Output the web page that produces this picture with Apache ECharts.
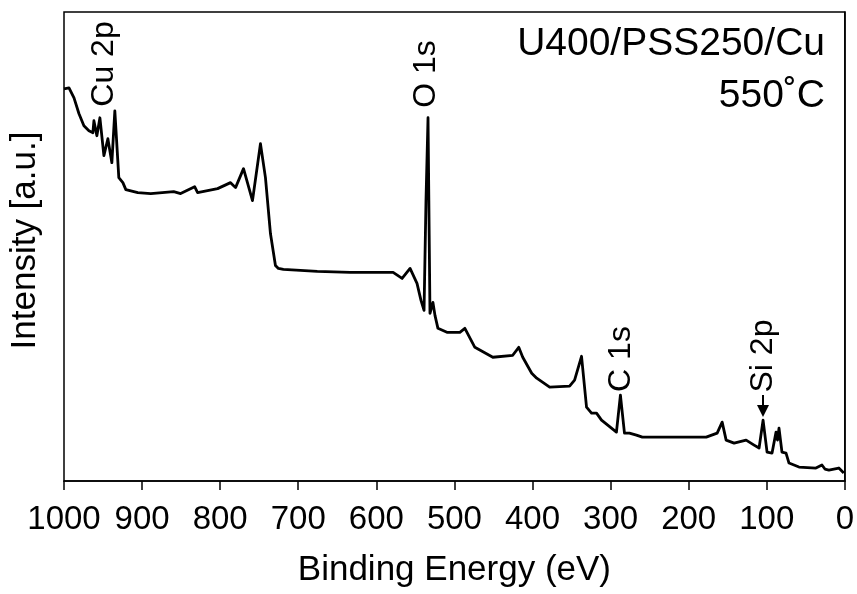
<!DOCTYPE html>
<html>
<head>
<meta charset="utf-8">
<script src="https://cdn.jsdelivr.net/npm/echarts@6/dist/echarts.min.js"></script>
<style>
html,body{margin:0;padding:0;background:#fff;}
#chart{width:857px;height:594px;}
</style>
</head>
<body>
<div id="chart"></div>
<script>
// Binding energy (eV)
var energy = [1000, 993.6, 987.2, 980.8, 974.5, 968.1, 963.0, 961.7, 957.9, 954.0,
  948.9, 943.8, 938.7, 934.9, 929.8, 924.6, 920.8, 905.5, 888.9, 859.5,
  850.6, 832.7, 828.9, 803.3, 786.7, 780.3, 770.1, 758.6, 748.4, 742.0,
  735.6, 729.2, 725.4, 719.0, 675.6, 633.5, 578.5, 567.0, 556.8, 547.9, 542.8,
  538.9, 536.4, 533.8, 531.3, 527.5, 524.9, 521.1, 509.6, 493.0, 486.6,
  473.8, 450.8, 425.3, 417.6, 412.5, 401.0, 394.6, 378.0, 352.5, 346.1,
  337.2, 330.8, 324.4, 318.0, 311.6, 292.5, 287.4, 282.2, 275.9, 266.9,
  259.3, 208.2, 177.5, 163.5, 157.1, 152.0, 141.8, 126.4, 116.2, 109.8,
  104.7, 99.6, 93.2, 88.1, 86.2, 84.3, 80.5, 75.3, 71.5, 58.7,
  37.0, 29.3, 25.5, 20.4, 7.7, 1.3];
// Intensity (a.u.)
var intensity = [393, 394, 384, 368, 356, 351, 349, 361, 346, 364,
  326, 343, 319, 371, 304, 299, 292, 289, 288, 290,
  288, 295, 289, 293, 299, 294, 313, 281, 338, 304,
  248, 216, 213, 212, 210, 209, 209, 203, 213, 198, 181,
  171, 281, 364, 168, 179, 166, 153, 149, 149, 153,
  134, 124, 126, 134, 124, 108, 103, 94, 95, 101,
  125, 74, 68, 68, 61, 49, 86, 48, 48, 46,
  44, 44, 44, 48, 59, 41, 38, 41, 36, 33,
  61, 29, 28, 49, 41, 53, 29, 28, 18, 14,
  13, 16, 12, 11, 13, 8];
var xTicks = [0, 100, 200, 300, 400, 500, 600, 700, 800, 900, 1000];
var peakLabels = ['Cu 2p', 'O 1s', 'C 1s', 'Si 2p'];
var sampleText = ['U400/PSS250/Cu', '550\u02DAC'];

var seriesData = energy.map(function (e, i) { return [e, intensity[i]]; });
var FONT = 'Arial, "Liberation Sans", sans-serif';

var chart = echarts.init(document.getElementById('chart'), null, {renderer: 'canvas'});
chart.setOption({
  animation: false,
  backgroundColor: '#fff',
  grid: {left: 63, right: 12, top: 12, bottom: 113, show: true, borderColor: '#000', borderWidth: 1.5, backgroundColor: 'transparent'},
  xAxis: {
    type: 'value', inverse: true, min: xTicks[0], max: xTicks[xTicks.length - 1], interval: 100,
    name: 'Binding Energy (eV)', nameLocation: 'middle', nameGap: 72,
    nameTextStyle: {fontFamily: FONT, fontSize: 35, color: '#000'},
    axisLine: {show: true, onZero: false, lineStyle: {color: '#000', width: 1.5}},
    axisTick: {show: true, inside: false, length: 9, lineStyle: {color: '#000', width: 1.5}},
    axisLabel: {fontFamily: FONT, fontSize: 33, color: '#000', margin: 22,
      formatter: function (v) { return xTicks.indexOf(v) >= 0 ? String(v) : ''; }},
    splitLine: {show: false}
  },
  yAxis: {
    type: 'value', min: 0, max: 470,
    name: 'Intensity [a.u.]', nameLocation: 'middle', nameGap: 21,
    nameTextStyle: {fontFamily: FONT, fontSize: 35, color: '#000', padding: [0, 0, 0, 12]},
    axisLine: {show: true, lineStyle: {color: '#000', width: 1.5}},
    axisTick: {show: false}, axisLabel: {show: false}, splitLine: {show: false}
  },
  series: [{
    type: 'line', data: seriesData, showSymbol: false, symbol: 'none', smooth: false,
    lineStyle: {color: '#000', width: 2.8, join: 'round'}
  }],
  graphic: [
    {type: 'text', x: 104, y: 64, rotation: Math.PI / 2,
      style: {text: peakLabels[0], font: '32px ' + FONT, fill: '#000', textAlign: 'center', textVerticalAlign: 'middle'}},
    {type: 'text', x: 426, y: 74, rotation: Math.PI / 2,
      style: {text: peakLabels[1], font: '32px ' + FONT, fill: '#000', textAlign: 'center', textVerticalAlign: 'middle'}},
    {type: 'text', x: 621, y: 359, rotation: Math.PI / 2,
      style: {text: peakLabels[2], font: '32px ' + FONT, fill: '#000', textAlign: 'center', textVerticalAlign: 'middle'}},
    {type: 'text', x: 763, y: 356, rotation: Math.PI / 2,
      style: {text: peakLabels[3], font: '32px ' + FONT, fill: '#000', textAlign: 'center', textVerticalAlign: 'middle'}},
    {type: 'line', shape: {x1: 763, y1: 395, x2: 763, y2: 407}, style: {stroke: '#000', lineWidth: 2}},
    {type: 'polygon', shape: {points: [[757, 405], [769, 405], [763, 417]]}, style: {fill: '#000'}},
    {type: 'text', x: 825, y: 44,
      style: {text: sampleText[0], font: '39px ' + FONT, fill: '#000', textAlign: 'right', textVerticalAlign: 'middle'}},
    {type: 'text', x: 825, y: 96,
      style: {text: sampleText[1], font: '39px ' + FONT, fill: '#000', textAlign: 'right', textVerticalAlign: 'middle'}}
  ]
});
</script>
</body>
</html>
